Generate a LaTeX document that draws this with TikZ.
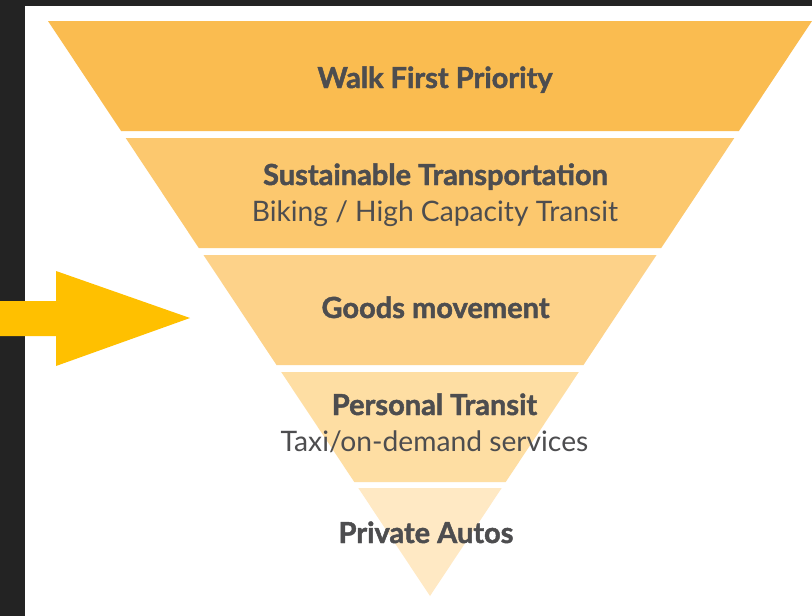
\documentclass[tikz,border=0pt]{standalone}
\usepackage{fontspec}
\setmainfont{Lato}
\newfontfamily\boldlbl[FakeBold=1.6]{Lato Bold}
\newfontfamily\reglbl{Lato}
\definecolor{bandA}{RGB}{250,188,80}
\definecolor{bandB}{RGB}{252,200,110}
\definecolor{bandC}{RGB}{253,210,137}
\definecolor{bandD}{RGB}{254,222,163}
\definecolor{bandE}{RGB}{255,233,196}
\definecolor{txt}{RGB}{77,77,79}
\definecolor{darkframe}{RGB}{35,35,35}
\definecolor{arrowcol}{RGB}{255,192,0}
\tikzset{
  title/.style={anchor=base, inner sep=0pt, text=txt, font=\boldlbl\fontsize{29}{33}\selectfont},
  sub/.style={anchor=base, inner sep=0pt, text=txt, font=\reglbl\fontsize{28.2}{33}\selectfont},
}
\begin{document}
\begin{tikzpicture}[x=1pt,y=-1pt]
\useasboundingbox (0,0) rectangle (812,616);
\fill[white] (0,0) rectangle (812,616);
\fill[darkframe] (0,0) rectangle (25,616);
\fill[darkframe] (0,0) rectangle (812,6);
% bands
\fill[bandA] (48,21) -- (812,21) -- (738.9,131) -- (121.1,131) -- cycle;
\fill[bandB] (125.7,138) -- (734.3,138) -- (661.2,248) -- (198.8,248) -- cycle;
\fill[bandC] (203.5,255) -- (656.5,255) -- (583.5,365) -- (276.5,365) -- cycle;
\fill[bandD] (281.2,372) -- (578.8,372) -- (505.7,482) -- (354.3,482) -- cycle;
\fill[bandE] (358.3,488) -- (501.7,488) -- (430,596) -- cycle;
% arrow
\fill[arrowcol] (0,301) -- (56,301) -- (56,271) -- (190,318) -- (56,366) -- (56,336) -- (0,336) -- cycle;
% labels
\node[title] (walk) at (435,88) {Walk First Priority};
\node[title] (sust) at (435.5,185) {Sustainable Transportation};
\node[sub] (bike) at (435,221) {Biking / High Capacity Transit};
\node[title] (goods) at (435.5,318) {Goods movement};
\node[title] (pers) at (434.5,415) {Personal Transit};
\node[sub] (taxi) at (434.5,451) {Taxi/on-demand services};
\node[title] (priv) at (426,543) {Private Autos};
\end{tikzpicture}
\end{document}
